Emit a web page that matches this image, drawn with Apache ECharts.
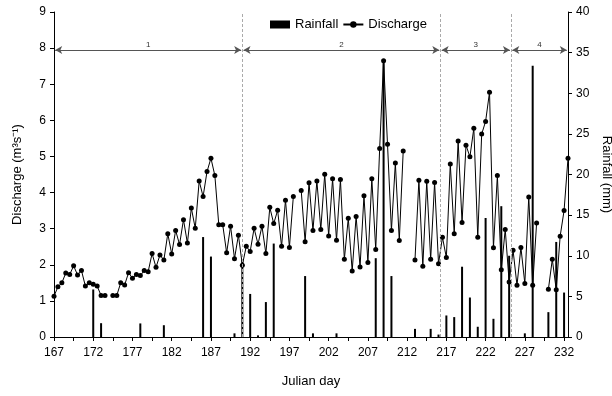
<!DOCTYPE html>
<html>
<head>
<meta charset="utf-8">
<script src="https://cdn.jsdelivr.net/npm/echarts@6/dist/echarts.min.js"></script>
<style>
html, body { margin: 0; padding: 0; background: #fff; }
#chart { width: 612px; height: 396px; }
</style>
</head>
<body>
<div id="chart"></div>
<script>
// two discharge readings per day, 167.0 .. 232.5
var firstDay = 167;
var lastDay = 232.5;

// discharge (m3/s), null where no reading
var discharge = [
    1.13, 1.39, 1.50, 1.77, 1.73, 1.97, 1.72, 1.84, 1.41, 1.50,
    1.46, 1.41, 1.15, 1.15, null, 1.15, 1.15, 1.50, 1.44, 1.78,
    1.63, 1.73, 1.70, 1.84, 1.81, 2.31, 1.93, 2.27, 2.13, 2.86,
    2.30, 2.95, 2.56, 3.25, 2.60, 3.57, 3.01, 4.32, 3.89, 4.58,
    4.95, 4.47, 3.11, 3.11, 2.33, 3.07, 2.17, 2.82, 1.99, 2.51,
    2.37, 3.01, 2.57, 3.07, 2.31, 3.59, 3.14, 3.51, 2.51, 3.79,
    2.48, 3.89, null, 4.06, 2.64, 4.27, 2.95, 4.32, 2.98, 4.51,
    2.80, 4.38, 2.68, 4.36, 2.15, 3.29, 1.83, 3.34, 1.94, 3.91,
    2.06, 4.38, 2.42, 5.22, 7.65, 5.34, 2.95, 4.82, 2.67, 5.15,
    null, null, 2.13, 4.34, 1.96, 4.31, 2.15, 4.28, 2.03, 2.76,
    2.20, 4.79, 2.86, 5.43, 3.17, 5.31, 4.99, 5.78, 2.76, 5.62,
    5.97, 6.78, 2.47, 4.47, 1.86, 2.98, 1.52, 2.40, 1.43, 2.48,
    1.48, 3.88, 1.43, 3.16, null, null, 1.32, 2.15, 1.31, 2.79,
    3.50, 4.95
];

// daily rainfall (mm)
var rainDays = [172, 173, 178, 181, 186, 187, 190, 191, 192, 193, 194, 195,
    199, 200, 203, 208, 209, 210, 213, 215, 216, 217, 218, 219, 220, 221,
    222, 223, 224, 225, 227, 228, 230, 231, 232];
var rainMm = [5.85, 1.7, 1.67, 1.45, 12.3, 9.9, 0.45, 9.5, 5.3, 0.2, 4.3, 11.5,
    7.5, 0.45, 0.45, 9.7, 34.0, 7.5, 1.0, 1.0, 0.3, 2.65, 2.45, 8.65, 4.86, 1.26,
    14.65, 2.24, 16.1, 10.0, 0.45, 33.4, 3.06, 11.7, 5.47];

// flow periods, boundaries in Julian days
var periodNames = ['1', '2', '3', '4'];
var periodBounds = [191, 216.25, 225.25];

var font = 'Liberation Sans, Arial, sans-serif';

var categories = [];
var rainSeries = [];
for (var d = firstDay; d <= lastDay; d += 0.5) {
    categories.push(String(d));
    rainSeries.push(null);
}
rainDays.forEach(function (day, i) {
    rainSeries[(day - firstDay) * 2] = rainMm[i];
});

var marks = [];
periodBounds.forEach(function (b) {
    marks.push([
        { coord: [b, 0], symbol: 'none', lineStyle: { type: [3, 2], color: '#aaa', width: 1 }, label: { show: false } },
        { coord: [b, 9], symbol: 'none' }
    ]);
});
var edges = [firstDay].concat(periodBounds).concat([lastDay]);
periodNames.forEach(function (name, i) {
    marks.push([
        { coord: [edges[i] + 0.15, 7.95], name: name },
        { coord: [edges[i + 1] - 0.15, 7.95] }
    ]);
});

var chart = echarts.init(document.getElementById('chart'));
chart.setOption({
    animation: false,
    textStyle: { fontFamily: font, color: '#000' },
    legend: {
        left: 265,
        top: 13,
        itemWidth: 20,
        itemHeight: 8,
        itemGap: 4,
        textStyle: { fontSize: 13, color: '#000', fontFamily: font },
        data: [{ name: 'Rainfall', icon: 'rect' }, { name: 'Discharge' }]
    },
    grid: { left: 54, right: 44, top: 12, bottom: 59, containLabel: false, outerBoundsMode: 'none' },
    xAxis: [{
        type: 'category',
        data: categories,
        boundaryGap: false,
        name: 'Julian day',
        nameLocation: 'middle',
        nameGap: 38,
        nameTextStyle: { fontSize: 13, color: '#000', fontFamily: font },
        axisLine: { lineStyle: { color: '#000', width: 1 } },
        axisTick: { interval: 4, length: 4, lineStyle: { color: '#000' } },
        axisLabel: { interval: 9, fontSize: 12, color: '#000', margin: 10, fontFamily: font },
        splitLine: { show: false }
    }, {
        type: 'value',
        min: firstDay,
        max: lastDay,
        show: false
    }],
    yAxis: [{
        type: 'value',
        min: 0,
        max: 9,
        interval: 1,
        name: 'Discharge (m³s⁻¹)',
        nameLocation: 'middle',
        nameGap: 30,
        nameTextStyle: { fontSize: 13, color: '#000', fontFamily: font },
        axisLine: { show: true, lineStyle: { color: '#000', width: 1 } },
        axisTick: { show: true, length: 4, lineStyle: { color: '#000' } },
        axisLabel: { fontSize: 12, color: '#000', margin: 8, fontFamily: font },
        splitLine: { show: false }
    }, {
        type: 'value',
        min: 0,
        max: 40,
        interval: 5,
        name: 'Rainfall (mm)',
        nameLocation: 'middle',
        nameRotate: -90,
        nameGap: 27,
        nameTextStyle: { fontSize: 13, color: '#000', fontFamily: font },
        axisLine: { show: true, lineStyle: { color: '#000', width: 1 } },
        axisTick: { show: true, length: 4, lineStyle: { color: '#000' } },
        axisLabel: { fontSize: 12, color: '#000', margin: 8, fontFamily: font },
        splitLine: { show: false }
    }],
    series: [{
        name: 'Rainfall',
        type: 'bar',
        yAxisIndex: 1,
        data: rainSeries,
        barWidth: 2,
        itemStyle: { color: '#000' }
    }, {
        name: 'Discharge',
        type: 'line',
        data: discharge,
        symbol: 'circle',
        symbolSize: 5,
        showSymbol: true,
        showAllSymbol: true,
        connectNulls: false,
        itemStyle: { color: '#000' },
        lineStyle: { color: '#000', width: 1 },
        z: 3
    }, {
        name: 'periods',
        type: 'line',
        xAxisIndex: 1,
        data: [],
        silent: true,
        markLine: {
            silent: true,
            animation: false,
            symbol: ['arrow', 'arrow'],
            symbolSize: [6, 7],
            lineStyle: { type: 'solid', color: '#555', width: 1.2 },
            label: {
                show: true,
                position: 'middle',
                formatter: '{b}',
                fontSize: 8,
                color: '#333',
                distance: 1,
                fontFamily: font
            },
            data: marks
        }
    }]
});
</script>
</body>
</html>
